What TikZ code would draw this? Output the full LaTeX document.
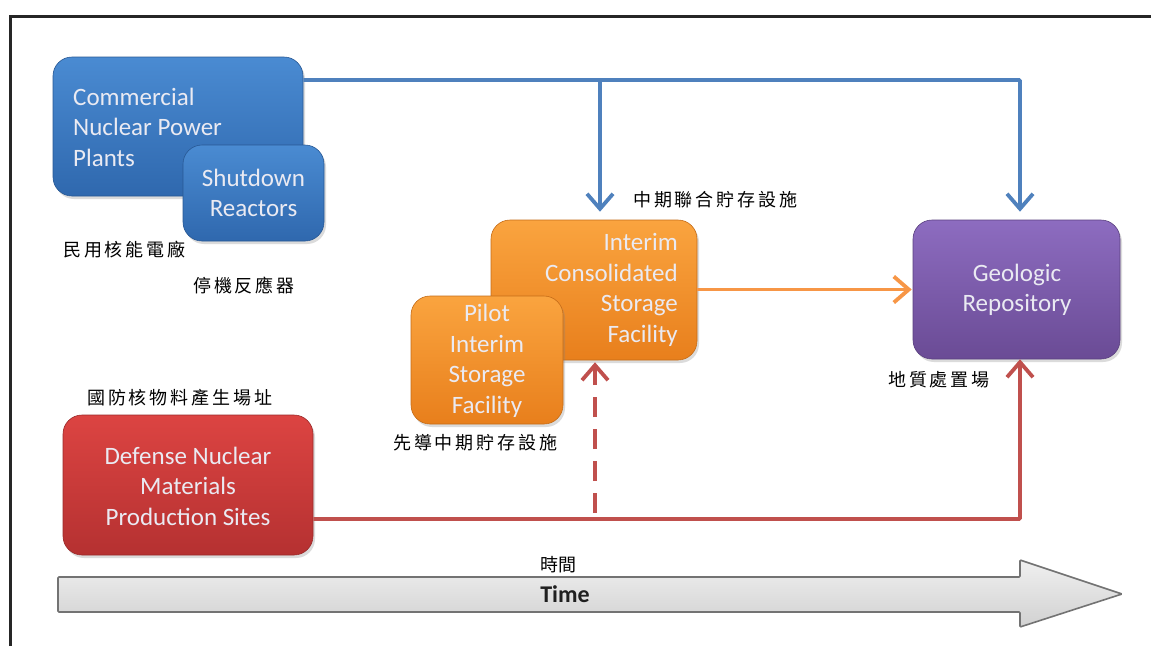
\documentclass[tikz,border=0pt]{standalone}
\usepackage{fontspec}
\setmainfont{Carlito}
\newfontfamily\cjk{Noto Sans CJK TC}[LetterSpace=16]
\newfontfamily\cjkn{Noto Sans CJK TC}
\usetikzlibrary{arrows.meta,shadows,calc}
\definecolor{blueA}{HTML}{4A8BD2}
\definecolor{blueB}{HTML}{2F68AE}
\definecolor{orgA}{HTML}{FAA43F}
\definecolor{orgB}{HTML}{E87F1C}
\definecolor{purA}{HTML}{8D6CC0}
\definecolor{purB}{HTML}{6A4B95}
\definecolor{redA}{HTML}{DC4442}
\definecolor{redB}{HTML}{B53131}
\definecolor{lineblue}{HTML}{4F81BD}
\definecolor{lineorange}{HTML}{F79646}
\definecolor{linered}{HTML}{C0504D}
\definecolor{boxtxt}{HTML}{EAEAF2}
\begin{document}
\begin{tikzpicture}[x=1pt,y=-1pt,
  box/.style={rounded corners=19pt, inner sep=0pt, draw=#1B!85!black, line width=0.6pt,
    top color=#1A, bottom color=#1B,
    drop shadow={opacity=0.28, shadow xshift=2pt, shadow yshift=-3pt}},
  boxtext/.style={text=boxtxt, font=\fontsize{25}{30.5}\selectfont, inner sep=0pt},
  cjklabel/.style={font=\cjk\fontsize{18}{20}\selectfont, anchor=west, inner sep=0pt},
  conn/.style={line width=3.8pt, -{Straight Barb[length=15pt,width=26pt]}},
]
\useasboundingbox (0,0) rectangle (1151,646);
\fill[white] (0,0) rectangle (1151,646);
% frame
\draw[line width=3pt, black!85] (10,646) -- (10,16) -- (1151,16);

% boxes
\node[box=blue, minimum width=250pt, minimum height=139pt] (cnp) at (178,126.5) {};
\node[boxtext, anchor=west, align=left] (cnpt) at (73,127) {Commercial\\Nuclear Power\\Plants};
\node[box=blue, minimum width=141pt, minimum height=96pt] (sdr) at (253.5,193) {};
\node[boxtext, align=center] (sdrt) at (253.5,193) {Shutdown\\Reactors};

\node[box=org, minimum width=206pt, minimum height=140pt] (int) at (594,290) {};
\node[boxtext, anchor=east, align=right] (intt) at (678,290) {Interim\\Consolidated\\Storage\\Facility};
\node[box=org, minimum width=152pt, minimum height=128pt] (pil) at (487,360) {};
\node[boxtext, align=center] (pilt) at (487,361) {Pilot\\Interim\\Storage\\Facility};

\node[box=pur, minimum width=207pt, minimum height=139pt] (geo) at (1016.5,289.5) {};
\node[boxtext, align=center] (geot) at (1017,290) {Geologic\\Repository};

\node[box=red, minimum width=250pt, minimum height=140pt] (def) at (188,485) {};
\node[boxtext, align=center] (deft) at (188,486) {Defense Nuclear\\Materials\\Production Sites};

% labels
\node[cjklabel] (l1) at (63,250) {民用核能電廠};
\node[cjklabel] (l2) at (193,285) {停機反應器};
\node[cjklabel] (l3) at (633,200) {中期聯合貯存設施};
\node[cjklabel] (l4) at (393,443) {先導中期貯存設施};
\node[cjklabel] (l5) at (888,380) {地質處置場};
\node[cjklabel] (l6) at (87,398) {國防核物料產生場址};

% connectors
\coordinate (bj) at (1020,80);
\coordinate (bb) at (600,80);
\draw[conn, color=lineblue, rounded corners=1pt] (cnp.east |- bj) -- (bj) -- ([yshift=8pt]geo.north -| bj);
\draw[conn, color=lineblue] (bb) -- ([yshift=8pt]int.north -| bb);
\draw[conn, color=lineorange] (int.east |- geo.west) -- ([xshift=-1pt]geo.west);
\coordinate (rj) at (1020,519);
\coordinate (rd) at (595,513);
\draw[conn, color=linered, rounded corners=1pt] (def.east |- rj) -- (rj) -- (geo.south -| rj);
\draw[conn, color=linered, dash pattern=on 20pt off 12pt] (rd) -- ([yshift=-2pt]int.south -| rd);

% time arrow
\draw[line width=1.6pt, draw=black!55, top color=white!94!black, bottom color=white!82!black, rounded corners=1pt]
  (58,577) -- (1020,577) -- (1020,560) -- (1122,594) -- (1020,627) -- (1020,612) -- (58,612) -- cycle;
\node[font=\bfseries\fontsize{24}{26}\selectfont, text=black!88, inner sep=0pt] (time) at (565,594) {Time};
\node[font=\cjkn\fontsize{18}{20}\selectfont, anchor=west, inner sep=0pt] (tl) at (540,565) {時間};
\end{tikzpicture}
\end{document}
